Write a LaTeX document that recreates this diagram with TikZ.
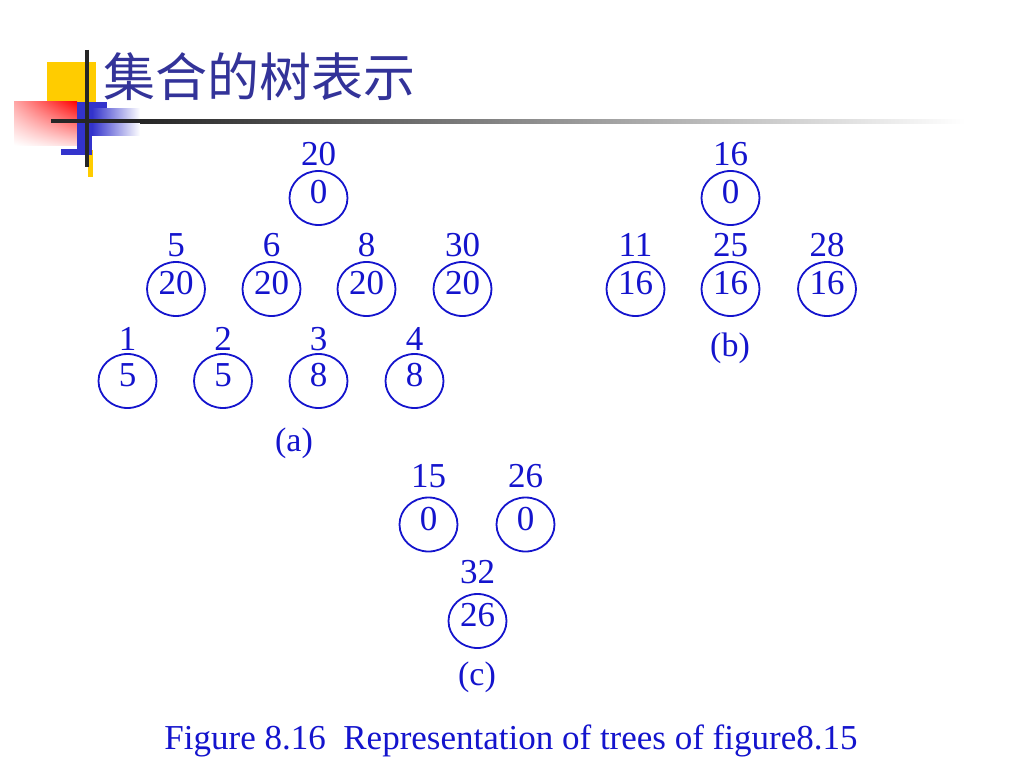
\documentclass[tikz,border=0pt]{standalone}
\usepackage{fontspec}
\setmainfont{Liberation Serif}
\newfontfamily\cjkfont{Noto Sans CJK SC}
\usepackage{tikz}
\usetikzlibrary{shapes.geometric, positioning, shadings}

\definecolor{setblue}{RGB}{20,20,205}
\definecolor{titleblue}{RGB}{51,51,153}
\definecolor{logoyellow}{RGB}{255,204,0}
\definecolor{logoblue}{RGB}{51,51,204}

\begin{document}
\begin{tikzpicture}[
    x=1pt, y=-1pt,
    setnode/.style={draw=setblue, line width=1.8pt, ellipse, inner sep=0pt,
                    minimum width=58pt, minimum height=54pt, text depth=12pt,
                    text=setblue, font=\fontsize{35}{35}\selectfont},
    tag/.style={inner sep=0pt, text depth=0pt, text=setblue,
                font=\fontsize{35}{35}\selectfont},
    sublabel/.style={inner sep=0pt, text=setblue, font=\fontsize{34}{34}\selectfont},
    caption/.style={inner sep=0pt, text=setblue, font=\fontsize{35}{35}\selectfont},
    title/.style={inner sep=0pt, anchor=west, text=titleblue,
                  font=\fontsize{52}{52}\selectfont\cjkfont}
]
\fill[white] (0,0) rectangle (1024,768);
\useasboundingbox (0,0) rectangle (1024,768);

% ====================== LOGO & TITLE ======================
\fill[logoyellow] (47,62) rectangle (96,110);
\fill[logoyellow] (88,150) rectangle (93,177);
\shade[upper left=red!35, upper right=red, lower left=white, lower right=red!15]
    (14,101) rectangle (77,145);
\fill[logoblue] (77,102) rectangle (92,155);
\fill[logoblue] (61,149) rectangle (92,155);
\fill[logoblue] (92,102) rectangle (107,108);
\shade[left color=logoblue, right color=white] (92,108) rectangle (140,135);
\draw[black!85, line width=3.5pt] (87,50) -- (87,167);
\shade[left color=black!85, right color=white] (140,119) rectangle (965,123.5);
\draw[black!85, line width=4.5pt] (51,121) -- (141,121);
\node[title] (title) at (103,77) {集合的树表示};

% ====================== TREE (a) ======================
\node[setnode] (a20) at (318.5,198) {0};
\node[setnode] (a5)  at (176,289)   {20};
\node[setnode] (a6)  at (271.5,289) {20};
\node[setnode] (a8)  at (366.5,289) {20};
\node[setnode] (a30) at (462.5,289) {20};
\node[setnode] (a1)  at (127.5,381) {5};
\node[setnode] (a2)  at (223,381)   {5};
\node[setnode] (a3)  at (318.5,381) {8};
\node[setnode] (a4)  at (414.5,381) {8};

\node[tag, above=4pt of a20] (a20-t) {20};
\node[tag, above=4pt of a5]  (a5-t)  {5};
\node[tag, above=4pt of a6]  (a6-t)  {6};
\node[tag, above=4pt of a8]  (a8-t)  {8};
\node[tag, above=4pt of a30] (a30-t) {30};
\node[tag, above=2pt of a1]  (a1-t)  {1};
\node[tag, above=2pt of a2]  (a2-t)  {2};
\node[tag, above=2pt of a3]  (a3-t)  {3};
\node[tag, above=2pt of a4]  (a4-t)  {4};

\node[sublabel] (capa) at (294,443) {(a)};

% ====================== TREE (b) ======================
\node[setnode] (b16) at (730.5,198) {0};
\node[setnode] (b11) at (635.5,289) {16};
\node[setnode] (b25) at (730.5,289) {16};
\node[setnode] (b28) at (827,289)   {16};

\node[tag, above=4pt of b16] (b16-t) {16};
\node[tag, above=4pt of b11] (b11-t) {11};
\node[tag, above=4pt of b25] (b25-t) {25};
\node[tag, above=4pt of b28] (b28-t) {28};

\node[sublabel] (capb) at (730,348) {(b)};

% ====================== TREE (c) ======================
\node[setnode] (c15) at (428.5,524.5) {0};
\node[setnode] (c26) at (525.5,524.5) {0};
\node[setnode] (c32) at (477.5,621)   {26};

\node[tag, above=9pt of c15] (c15-t) {15};
\node[tag, above=9pt of c26] (c26-t) {26};
\node[tag, above=9pt of c32] (c32-t) {32};

\node[sublabel] (capc) at (477,677) {(c)};

% ====================== CAPTION ======================
\node[caption] (figcap) at (511,741) {Figure 8.16\ \ Representation of trees of figure8.15};

\end{tikzpicture}
\end{document}
